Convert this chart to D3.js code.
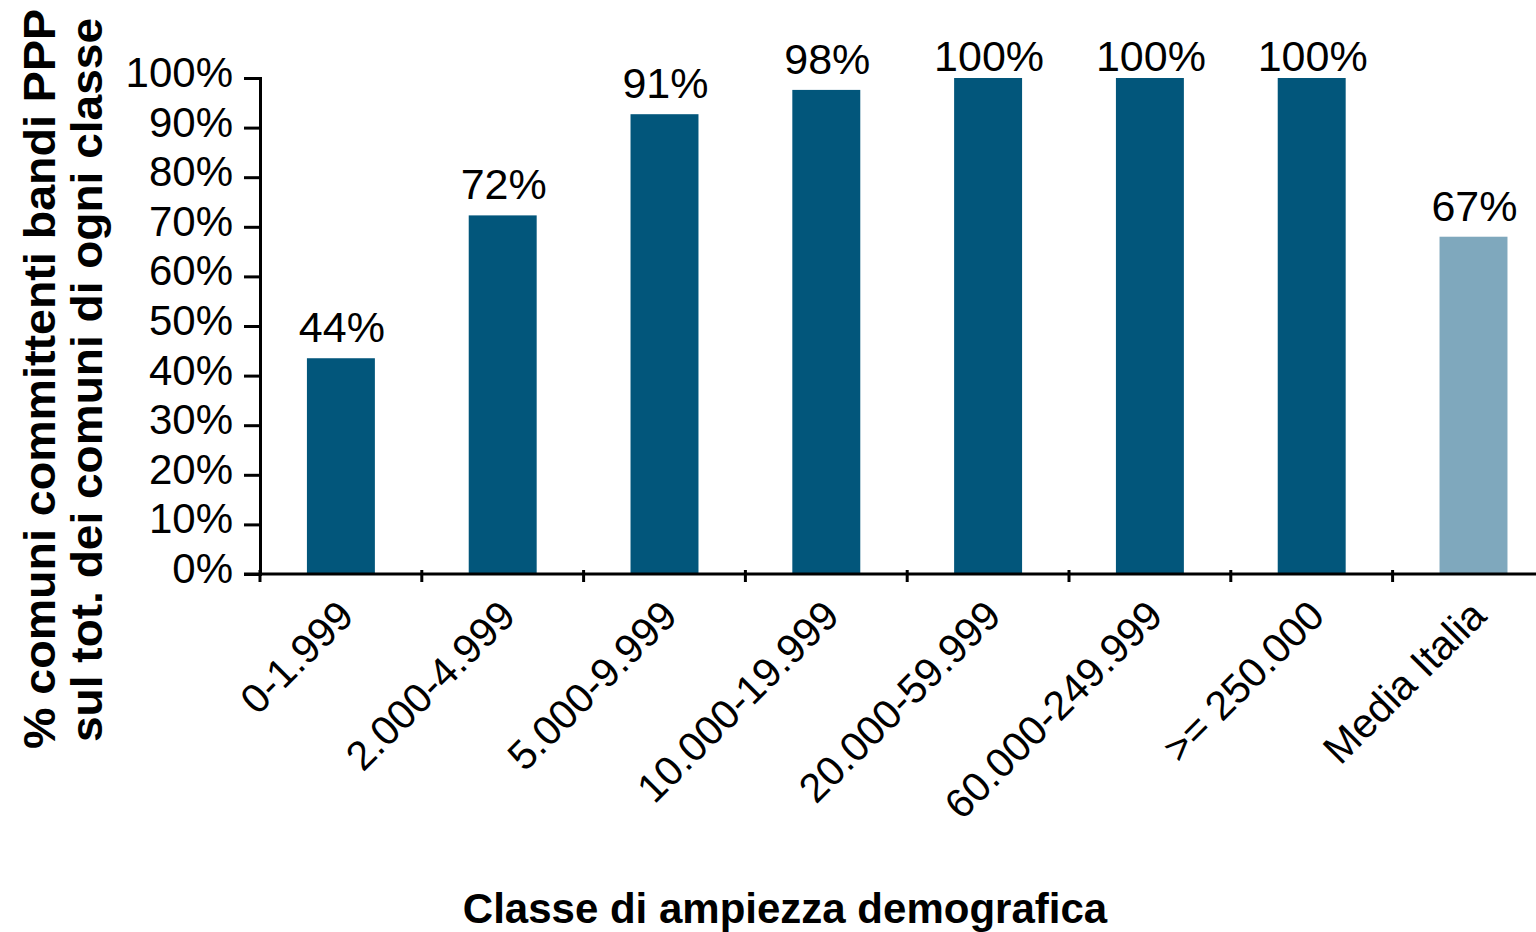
<!DOCTYPE html>
<html>
<head>
<meta charset="utf-8">
<script src="https://cdn.jsdelivr.net/npm/d3@7"></script>
<style>
  body { margin: 0; background: #fff; }
  text { font-family: "Liberation Sans", Arial, sans-serif; fill: #000; }
</style>
</head>
<body>
<script>
// data
const categories = ["0-1.999", "2.000-4.999", "5.000-9.999", "10.000-19.999",
                    "20.000-59.999", "60.000-249.999", ">= 250.000", "Media Italia"];
const values = [0.435, 0.723, 0.927, 0.976, 1.0, 1.0, 1.0, 0.68];
const valueLabels = ["44%", "72%", "91%", "98%", "100%", "100%", "100%", "67%"];
const yTicks = [0, 0.1, 0.2, 0.3, 0.4, 0.5, 0.6, 0.7, 0.8, 0.9, 1.0];

function main(){
    const width = 1536;
    const height = 932;

    const svg = d3.select("body").append("svg")
        .attr("width", width)
        .attr("height", height);

    const x = d3.scaleBand()
        .domain(categories)
        .range([260, 260 + 8 * 161.8])
        .paddingInner(0.58)
        .paddingOuter(0.29);

    const y = d3.scaleLinear().domain([0, 1]).range([574, 78]);

    const gap = (x.step() - x.bandwidth()) / 2;

    // bars
    svg.selectAll(".bar")
        .data(categories)
        .enter().append("rect")
        .attr("class", "bar")
        .attr("x", d => x(d))
        .attr("width", x.bandwidth())
        .attr("y", (d, i) => y(values[i]))
        .attr("height", (d, i) => y(0) - y(values[i]))
        .attr("fill", d => d == "Media Italia" ? "#7fa8bd" : "#02567b");

    // value labels
    svg.selectAll(".val")
        .data(categories)
        .enter().append("text")
        .attr("class", "val")
        .attr("x", d => x(d) + x.bandwidth() / 2 + 1)
        .attr("y", (d, i) => Math.max(y(values[i]) - 16, 71))
        .attr("text-anchor", "middle")
        .attr("font-size", "43px")
        .text((d, i) => valueLabels[i]);

    // y axis
    const yAxis = svg.append("g")
        .attr("transform", "translate(260,0)")
        .call(d3.axisLeft(y).tickValues(yTicks).tickSize(16).tickPadding(11)
            .tickFormat(d3.format(".0%")));
    yAxis.select(".domain").attr("stroke", "#000").attr("stroke-width", 3);
    yAxis.selectAll(".tick line").attr("stroke", "#000").attr("stroke-width", 3);
    yAxis.selectAll(".tick text")
        .attr("font-size", "42px")
        .attr("font-family", "Liberation Sans, Arial, sans-serif")
        .attr("fill", "#000")
        .attr("dy", "0.32em")
        .attr("y", -5);

    // x axis line and tick marks at band boundaries
    svg.append("line")
        .attr("x1", 244).attr("x2", width)
        .attr("y1", y(0)).attr("y2", y(0))
        .attr("stroke", "#000").attr("stroke-width", 3);

    svg.selectAll(".xtick")
        .data(categories)
        .enter().append("line")
        .attr("class", "xtick")
        .attr("x1", d => x(d) - gap).attr("x2", d => x(d) - gap)
        .attr("y1", y(0) - 4).attr("y2", y(0) + 8)
        .attr("stroke", "#000").attr("stroke-width", 3);

    // rotated category labels
    svg.selectAll(".xlab")
        .data(categories)
        .enter().append("text")
        .attr("class", "xlab")
        .attr("text-anchor", "end")
        .attr("font-size", "41px")
        .attr("transform", d => "translate(" + (x(d) + x.bandwidth() / 2 + 15) + "," + (y(0) + 44) + ") rotate(-45)")
        .text(d => d);

    // axis titles
    svg.append("text")
        .attr("x", 785)
        .attr("y", 923)
        .attr("text-anchor", "middle")
        .attr("font-size", "42px")
        .attr("font-weight", "bold")
        .text("Classe di ampiezza demografica");

    svg.append("text")
        .attr("transform", "translate(55,379) rotate(-90)")
        .attr("text-anchor", "middle")
        .attr("font-size", "44px")
        .attr("font-weight", "bold")
        .attr("textLength", 740)
        .attr("lengthAdjust", "spacingAndGlyphs")
        .text("% comuni committenti bandi PPP");

    svg.append("text")
        .attr("transform", "translate(102,380) rotate(-90)")
        .attr("text-anchor", "middle")
        .attr("font-size", "44px")
        .attr("font-weight", "bold")
        .attr("textLength", 724)
        .attr("lengthAdjust", "spacingAndGlyphs")
        .text("sul tot. dei comuni di ogni classe");
}
main();
</script>
</body>
</html>
